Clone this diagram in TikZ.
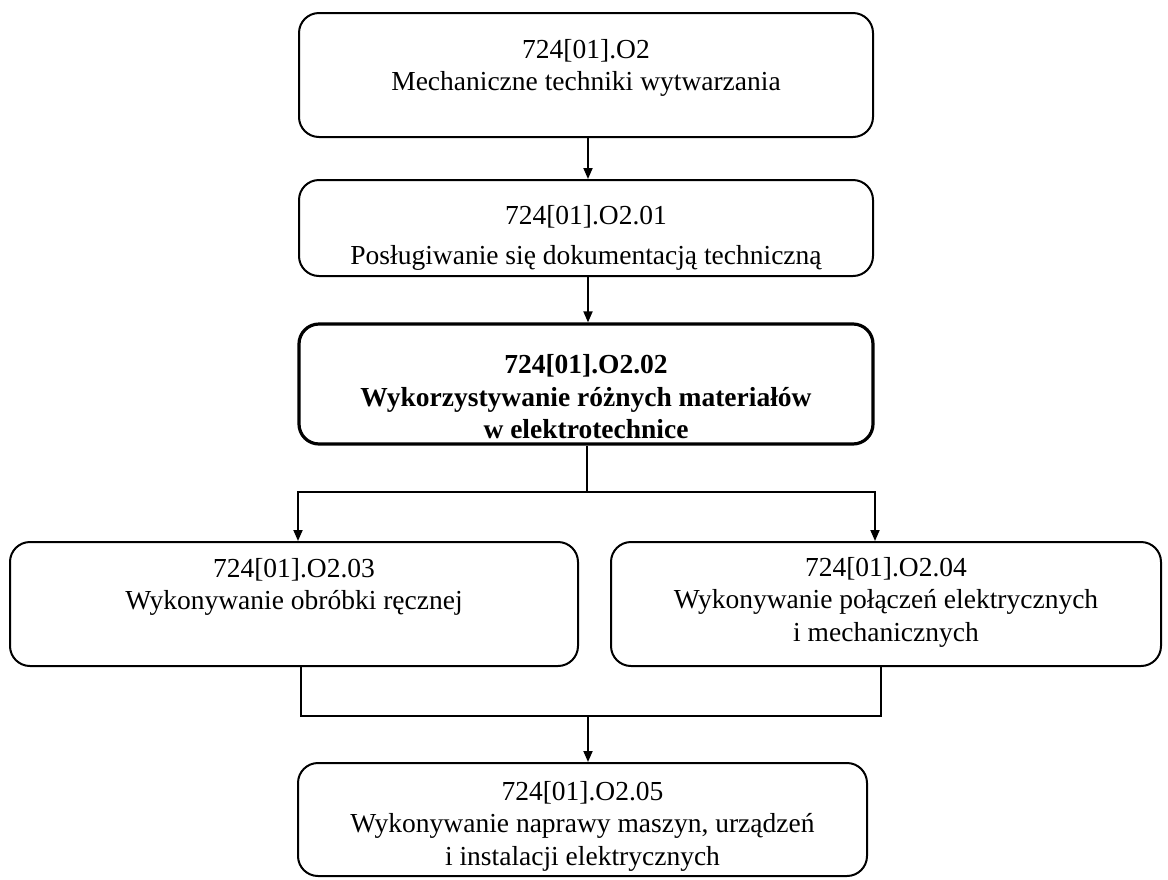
\documentclass[tikz,border=0pt]{standalone}
\usepackage{fontspec}
\setmainfont{Liberation Serif}
\usetikzlibrary{arrows.meta,calc}
\begin{document}
\begin{tikzpicture}[x=1pt,y=-1pt,
  box/.style={draw,line width=2pt,rounded corners=20pt,minimum width=#1,inner sep=0pt},
  boxthick/.style={draw,line width=3.2pt,rounded corners=20pt,minimum width=#1,inner sep=0pt},
  lbl/.style={align=center,inner sep=0pt,font=\fontsize{27.5}{32.5}\selectfont},
  conn/.style={line width=1.8pt},
  arr/.style={line width=1.8pt,-{Triangle[length=11pt,width=9pt]}}]
\useasboundingbox (0,0) rectangle (1168,879);
% boxes
\node[box=574pt,minimum height=124pt] (b1) at (586,75) {};
\node[box=574pt,minimum height=96pt] (b2) at (586,228) {};
\node[boxthick=574pt,minimum height=120pt] (b3) at (586,384) {};
\node[box=568pt,minimum height=124pt] (b4) at (294,604) {};
\node[box=550pt,minimum height=124pt] (b5) at (886,604) {};
\node[box=569pt,minimum height=113pt] (b6) at (582.5,819.5) {};
% texts
\node[lbl] (t1) at (586,68) {724[01].O2\\Mechaniczne techniki wytwarzania};
\node[lbl] (t2) at (586,238) {724[01].O2.01\\[8pt]Posługiwanie się dokumentacją techniczną};
\node[lbl,font=\fontsize{27.5}{32.5}\selectfont\bfseries] (t3) at (586,397) {724[01].O2.02\\Wykorzystywanie różnych materiałów\\w elektrotechnice};
\node[lbl] (t4) at (294,587) {724[01].O2.03\\Wykonywanie obróbki ręcznej};
\node[lbl] (t5) at (886,602) {724[01].O2.04\\Wykonywanie połączeń elektrycznych\\i mechanicznych};
\node[lbl] (t6) at (582.5,826) {724[01].O2.05\\Wykonywanie naprawy maszyn, urządzeń\\i instalacji elektrycznych};
% connectors
\draw[arr] ([xshift=2pt]b1.south) -- ([xshift=2pt]b2.north);
\draw[arr] ([xshift=2pt]b2.south) -- ([xshift=2pt]b3.north);
\coordinate (j1) at (587,492);
\draw[conn] (b3.south -| j1) -- (j1);
\draw[arr] (j1) -| ([xshift=4pt]b4.north);
\draw[arr] (j1) -| ([xshift=-11pt]b5.north);
\coordinate (j2) at (588,716);
\draw[conn] ([xshift=7pt]b4.south) |- (j2) -| ([xshift=-5pt]b5.south);
\draw[arr] (j2) -- (b6.north -| j2);
\end{tikzpicture}
\end{document}
